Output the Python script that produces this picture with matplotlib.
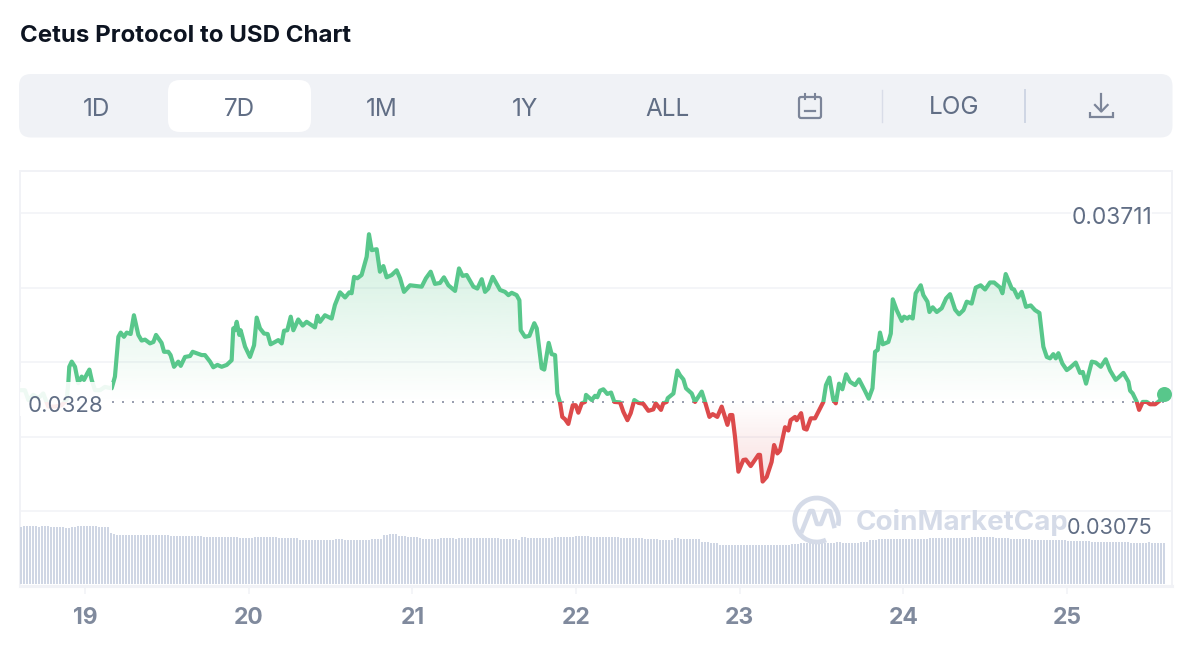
import numpy as np
import matplotlib
matplotlib.use("Agg")
import matplotlib.pyplot as plt
from matplotlib.patches import FancyBboxPatch, Rectangle, Arc, PathPatch
from matplotlib.path import Path

plt.rcParams['font.family'] = ['Inter', 'DejaVu Sans']

title = "Cetus Protocol to USD Chart"
tab_labels = ["1D", "7D", "1M", "1Y", "ALL"]
day_ticks = [19, 20, 21, 22, 23, 24, 25]
grid_prices = [0.03711, 0.03552, 0.03393, 0.03234, 0.03075]
base_price = 0.03308
base_label = "0.0328"
high_label = "0.03711"
low_label = "0.03075"

# time in days of the month
days = [18.603,18.633,18.654,18.684,18.715,18.745,18.776,18.817,18.857,18.888,18.898,18.904,18.919,18.939,18.959,18.980,18.994,19.014,19.027,19.041,19.061,19.092,19.122,19.163,19.183,19.204,19.218,19.238,19.255,19.279,19.299,19.326,19.346,19.367,19.397,19.418,19.434,19.468,19.483,19.509,19.523,19.544,19.570,19.585,19.611,19.642,19.658,19.682,19.713,19.733,19.764,19.784,19.809,19.835,19.866,19.896,19.906,19.916,19.927,19.943,19.951,19.978,20.008,20.033,20.049,20.069,20.094,20.116,20.134,20.161,20.181,20.202,20.216,20.236,20.257,20.273,20.303,20.330,20.354,20.405,20.420,20.436,20.466,20.507,20.527,20.558,20.589,20.615,20.629,20.644,20.664,20.690,20.721,20.735,20.752,20.782,20.802,20.823,20.843,20.874,20.904,
        20.925,20.949,20.986,21.057,21.083,21.112,21.138,21.169,21.193,21.220,21.261,21.285,21.307,21.332,21.373,21.397,21.424,21.444,21.464,21.491,21.536,21.566,21.587,21.607,21.637,21.654,21.662,21.688,21.715,21.745,21.760,21.790,21.806,21.833,21.851,21.872,21.886,21.902,21.916,21.933,21.953,21.980,21.998,22.014,22.035,22.055,22.061,22.096,22.116,22.130,22.147,22.167,22.191,22.214,22.234,22.269,22.289,22.314,22.334,22.356,22.381,22.411,22.442,22.472,22.487,22.519,22.533,22.554,22.560,22.595,22.619,22.635,22.656,22.672,22.707,22.727,22.768,22.788,22.815,22.835,22.863,22.890,22.925,22.941,22.955,22.971,22.992,23.022,23.037,23.067,23.114,23.124,23.140,23.165,23.195,23.210,23.230,23.246,23.277,23.297,23.311,23.338,
        23.348,23.375,23.393,23.409,23.434,23.460,23.491,23.511,23.527,23.548,23.572,23.587,23.607,23.627,23.650,23.674,23.705,23.729,23.766,23.788,23.811,23.827,23.843,23.857,23.874,23.908,23.923,23.935,23.959,23.990,24.004,24.024,24.037,24.057,24.075,24.106,24.122,24.147,24.159,24.179,24.204,24.234,24.261,24.285,24.316,24.340,24.367,24.387,24.417,24.442,24.472,24.499,24.529,24.554,24.591,24.605,24.625,24.662,24.676,24.699,24.723,24.749,24.778,24.804,24.831,24.855,24.876,24.896,24.916,24.931,24.947,24.971,24.998,25.018,25.053,25.079,25.096,25.116,25.151,25.175,25.206,25.236,25.263,25.297,25.314,25.344,25.375,25.385,25.401,25.426,25.440,25.462,25.487,25.507,25.538,25.578,25.593]

# price in 1e-5 USD
prices = [3333,3333,3312,3323,3316,3326,3298,3298,3301,3312,3348,3383,3394,3383,3348,3362,3355,3369,3377,3355,3333,3333,3340,3337,3362,3447,3456,3447,3456,3453,3493,3451,3439,3441,3433,3436,3451,3434,3415,3415,3408,3383,3394,3385,3404,3406,3415,3412,3408,3408,3394,3382,3387,3383,3387,3397,3465,3461,3479,3451,3461,3426,3404,3429,3488,3465,3454,3453,3431,3436,3440,3433,3460,3461,3490,3461,3484,3471,3479,3467,3492,3479,3493,3486,3515,3542,3531,3542,3540,3575,3572,3579,3618,3666,3632,3634,3586,3598,3574,3579,3589,
          3572,3543,3557,3554,3572,3586,3560,3562,3574,3557,3545,3593,3577,3579,3554,3550,3570,3543,3550,3575,3547,3543,3536,3541,3536,3525,3461,3447,3449,3476,3465,3380,3377,3434,3410,3408,3326,3307,3276,3271,3261,3301,3301,3285,3305,3308,3323,3312,3321,3318,3332,3335,3325,3328,3308,3307,3287,3269,3284,3312,3306,3304,3289,3292,3305,3291,3305,3308,3316,3326,3375,3365,3356,3337,3326,3308,3330,3308,3276,3282,3276,3298,3259,3280,3280,3234,3159,3184,3185,3171,3195,3195,3138,3148,3180,3216,3198,3204,3254,3247,3269,3276,
          3269,3284,3251,3249,3273,3273,3294,3308,3344,3360,3312,3305,3347,3335,3367,3351,3344,3356,3331,3315,3337,3415,3419,3456,3431,3436,3454,3527,3504,3481,3490,3486,3490,3486,3540,3557,3536,3522,3500,3510,3500,3508,3529,3538,3505,3495,3504,3522,3518,3552,3557,3548,3563,3563,3552,3540,3581,3550,3548,3531,3543,3511,3514,3504,3498,3426,3404,3401,3410,3401,3412,3390,3376,3381,3392,3370,3372,3347,3394,3392,3383,3399,3375,3355,3360,3370,3351,3332,3326,3308,3291,3308,3308,3303,3303,3314,3324]

# volume bars, one every ~26 minutes (relative units)
volume = [57,58,58,58,58,58,57,58,58,58,57,57,57,57,57,56,56,57,57,58,
          58,58,58,58,58,58,57,57,57,57,51,50,49,49,49,49,49,49,49,49,
          49,49,49,49,49,49,49,49,49,49,48,48,48,48,48,48,48,48,48,48,
          48,47,47,47,47,47,47,47,47,47,47,47,47,46,46,46,46,46,47,47,
          47,47,47,47,47,47,46,46,46,46,46,46,46,44,44,44,44,44,44,44,
          44,44,44,44,44,45,45,45,44,44,44,44,44,44,44,44,44,45,45,45,
          45,49,49,50,50,50,48,48,48,47,47,47,47,46,45,45,45,45,45,45,
          46,46,46,46,46,45,46,46,46,46,46,46,46,46,46,46,46,46,46,46,
          45,45,45,45,45,45,44,47,47,46,46,46,46,46,46,46,46,46,47,47,
          47,47,47,47,47,48,48,48,48,48,47,47,47,47,47,47,47,47,47,47,
          46,46,46,46,46,46,46,46,45,45,45,45,45,44,44,44,44,44,46,46,
          45,45,45,45,45,45,45,42,42,42,41,41,41,39,39,39,39,39,39,39,
          39,39,39,39,39,39,39,39,39,39,39,39,39,39,39,39,39,40,40,40,
          41,41,41,41,41,41,41,41,41,41,41,41,42,42,41,41,41,41,41,41,
          42,42,42,44,44,44,45,45,45,45,45,45,45,45,45,45,45,45,45,45,
          45,45,45,46,46,46,46,46,46,46,46,46,46,46,46,46,46,47,47,47,
          47,47,47,47,47,46,46,46,46,46,45,45,45,45,45,45,45,44,44,44,
          44,44,44,44,44,44,44,44,44,43,43,43,43,43,43,43,43,42,42,42,
          42,42,42,42,42,42,42,42,42,42,41,41,41,41,41,41,42,41,41,41,
          41,41]

GREEN = "#58C78B"
RED = "#DC4A4B"
GRID = "#F4F5F8"
FRAME = "#F1F2F6"
TEXT = "#616E85"
W, H = 1190, 656


def px_axes(left, top, right, bottom, **kw):
    return fig.add_axes([left / W, 1 - bottom / H, (right - left) / W, (bottom - top) / H], **kw)


fig = plt.figure(figsize=(W / 100, H / 100), dpi=100, facecolor="white")

# price chart
days = np.array(days)
prices = np.array(prices) * 1e-5
xlim = (18.603, 25.641)
ylim = (0.02915, 0.03801)

ax = px_axes(20, 171, 1172, 586)
ax.set_xlim(xlim)
ax.set_ylim(ylim)
ax.set_yticks(grid_prices)
ax.set_yticklabels([])
ax.set_xticks(day_ticks)
ax.set_xticklabels([str(d) for d in day_ticks], fontsize=16.5, fontweight="bold", color="#808A9D")
ax.tick_params(axis="y", length=0)
ax.tick_params(axis="x", length=5.8, width=1.1, color=FRAME, pad=9.5)
ax.grid(axis="y", color=GRID, lw=1.44)
ax.set_axisbelow(True)
for name, spine in ax.spines.items():
    spine.set_color(FRAME)
    spine.set_linewidth(2.2 if name == "bottom" else 1.44)

# gradient under the line
poly = ax.fill_between(days, prices, base_price, facecolor="none", edgecolor="none")
area = poly.get_paths()[0]

grad = np.zeros((256, 1, 4))
grad[..., :3] = matplotlib.colors.to_rgb(GREEN)
grad[:, 0, 3] = np.linspace(0.28, 0, 256)
im = ax.imshow(grad, extent=(xlim[0], xlim[1], base_price, prices.max()), aspect="auto", zorder=1.5)
im.set_clip_path(area, transform=ax.transData)

grad = np.zeros((256, 1, 4))
grad[..., :3] = matplotlib.colors.to_rgb(RED)
grad[:, 0, 3] = np.linspace(0, 0.19, 256)
im = ax.imshow(grad, extent=(xlim[0], xlim[1], prices.min(), base_price), aspect="auto", zorder=1.5)
im.set_clip_path(area, transform=ax.transData)
ax.set_xlim(xlim)
ax.set_ylim(ylim)

# baseline and the line, green above and red below
ax.plot([19.165, 25.6], [base_price, base_price], color="#9A9FB0", lw=1.44, ls=(0, (1, 4)), zorder=2)
up, = ax.plot(days, prices, color=GREEN, lw=3.0, zorder=3, solid_joinstyle="round")
up.set_clip_path(Rectangle((xlim[0], base_price), xlim[1] - xlim[0], ylim[1] - base_price, transform=ax.transData))
down, = ax.plot(days, prices, color=RED, lw=3.0, zorder=3, solid_joinstyle="round")
down.set_clip_path(Rectangle((xlim[0], ylim[0]), xlim[1] - xlim[0], base_price - ylim[0], transform=ax.transData))
ax.plot(days[-1], prices[-1], "o", color=GREEN, ms=10.8, mew=0, zorder=4)

# volume bars share the time axis
vol = px_axes(20, 524, 1172, 584)
vol.patch.set_alpha(0)
vol.set_xlim(xlim)
vol.set_ylim(0, 60)
vol_days = 18.609 + np.arange(len(volume)) * 0.01833
vol.bar(vol_days, volume, width=0.0145, color="#CFD6E4")
vol.axis("off")

# everything around the chart, in pixels
top = px_axes(0, 0, W, H)
top.set_xlim(0, W)
top.set_ylim(H, 0)
top.axis("off")
top.patch.set_alpha(0)

top.text(20, 36.5, title, fontsize=17.3, fontweight="bold", color="#0D1421", va="center", ha="left")

top.add_patch(FancyBboxPatch((19 + 12, 74 + 12), 1153.5 - 24, 63.5 - 24, boxstyle="round,pad=12,rounding_size=12",
                             fc="#F0F2F6", ec="none"))
top.add_patch(FancyBboxPatch((168 + 12, 80 + 12), 143 - 24, 52 - 24, boxstyle="round,pad=12,rounding_size=12",
                             fc="white", ec="none"))
for label, x in zip(tab_labels, [96, 239, 382, 525, 667]):
    top.text(x, 109, label, fontsize=17.5, color=TEXT, ha="center", va="center")
top.text(954, 108, "LOG", fontsize=17.5, color=TEXT, ha="center", va="center")
top.plot([882.3, 882.3], [90, 122], color="#D9DDE8", lw=1)
top.plot([1025, 1025], [90, 122], color="#CFD6E4", lw=1.4)

# calendar icon
icon = "#7C8599"
top.add_patch(FancyBboxPatch((800, 98), 20, 19, boxstyle="round,pad=1,rounding_size=2", fc="none", ec=icon, lw=1.6))
top.plot([805, 805], [94, 99], color=icon, lw=1.5)
top.plot([815, 815], [94, 99], color=icon, lw=1.5)
top.plot([805, 815], [110.7, 110.7], color=icon, lw=1.6)

# download icon
top.plot([1101.3, 1101.3], [94, 111], color=icon, lw=1.6)
top.plot([1095, 1101.3, 1107.6], [105, 111.5, 105], color=icon, lw=1.6)
top.add_patch(PathPatch(Path([(1090, 111.5), (1090, 117.3), (1113, 117.3), (1113, 111.5)]), fc="none", ec=icon, lw=1.6))

# watermark
mark = "#D5DBE8"
top.add_patch(Arc((816.7, 520), 44, 44, theta1=65, theta2=15, ec=mark, lw=3.4))
top.plot([802, 810, 813, 817, 821, 826, 830, 834], [531, 511, 511, 524, 524, 511, 511, 526],
         color=mark, lw=3.2, solid_joinstyle="round")
top.text(856, 522, "CoinMarketCap", fontsize=20, fontweight="bold", color=mark, ha="left", va="center")

# price labels
box = dict(fc="white", ec="none", alpha=0.9, pad=0)
top.add_patch(Rectangle((20, 382), 92, 34, fc="white", ec="none", alpha=0.9))
top.text(103.5, 406, base_label, fontsize=16, color=TEXT, ha="right", va="center")
top.text(1152, 218, high_label, fontsize=16.4, color=TEXT, ha="right", va="center", bbox=box)
top.text(1152, 528, low_label, fontsize=15.6, color=TEXT, ha="right", va="center",
         bbox=dict(fc="white", ec="none", alpha=0.4, pad=0))

fig.savefig("out.png", dpi=100)
